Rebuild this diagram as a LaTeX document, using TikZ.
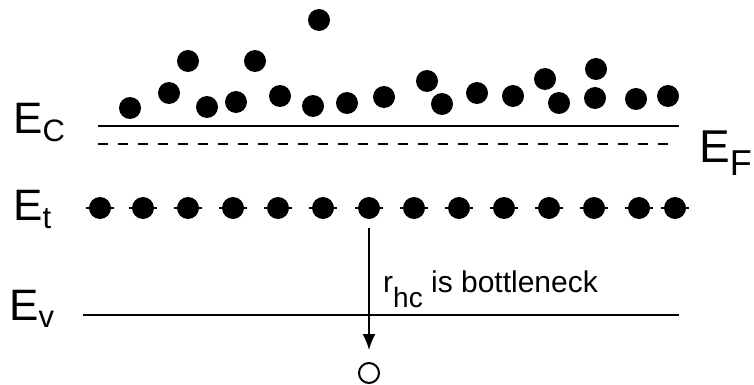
\documentclass[tikz,border=0pt]{standalone}
\usepackage{fontspec}
\setmainfont{Liberation Sans}
\usetikzlibrary{arrows.meta,positioning}
\newcommand\bigfont{\fontsize{44}{44}\selectfont}
\newcommand\subfont{\fontsize{31}{31}\selectfont}

\begin{document}
\begin{tikzpicture}[x=1pt,y=-1pt]
\tikzset{
  elec/.style={circle, fill=black, inner sep=0pt, minimum size=22pt},
  holenode/.style={circle, draw=black, line width=2pt, inner sep=0pt, minimum size=20pt},
  level/.style={line width=2pt},
  lbl/.style={font=\bigfont, inner sep=0pt, anchor=base west},
}
\useasboundingbox (0,0) rectangle (754,385);

% Draw band levels
\draw[level] (98,126) -- (679,126);
\draw[line width=1.5pt, dash pattern=on 10pt off 10pt] (98,144) -- (670,144);
\draw[level] (83,315) -- (679,315);

% Label levels
\node[lbl] (ec) at (13,133) {E\raisebox{-8pt}{\subfont C}};
\node[lbl, font=\fontsize{46}{46}\selectfont] (ef) at (699,162) {E\raisebox{-13pt}{\fontsize{36}{36}\selectfont F}};
\node[lbl] (et) at (13,220) {E\raisebox{-8pt}{\subfont t}};
\node[lbl] (ev) at (9,320) {E\raisebox{-7pt}{\subfont v}};

% Draw electrons in the conduction band
\foreach \x/\y [count=\i] in {130/108, 169/93, 188/61, 207/107, 236/102, 255/61,
    280/96, 319/20, 313/106, 347/103, 384/97, 427/81, 442/104, 477/93,
    513/96, 545/79, 559/103, 596/69, 595/98, 636/99, 668/96}
  \node[elec] (ce\i) at (\x,\y) {};

% Draw filled traps
\foreach \x [count=\i] in {100,143,188,233,278,323,369,414,459,504,549,594,639,675} {
  \node[elec] (tr\i) at (\x,208) {};
  \draw[line width=1.2pt] ([xshift=-3pt]tr\i.west) -- ([xshift=3pt]tr\i.east);
}

% Hole capture
\node[holenode] (h) at (369,373) {};
\draw[line width=1.6pt, -{Latex[length=16pt,width=13pt]}, shorten <=9pt, shorten >=12pt] (tr7) -- (h);
\node[anchor=base west, inner sep=0pt, font=\fontsize{30}{30}\selectfont] (rhc) at (383,292)
  {r\raisebox{-15pt}{\fontsize{28}{28}\selectfont hc} is bottleneck};
\end{tikzpicture}
\end{document}
